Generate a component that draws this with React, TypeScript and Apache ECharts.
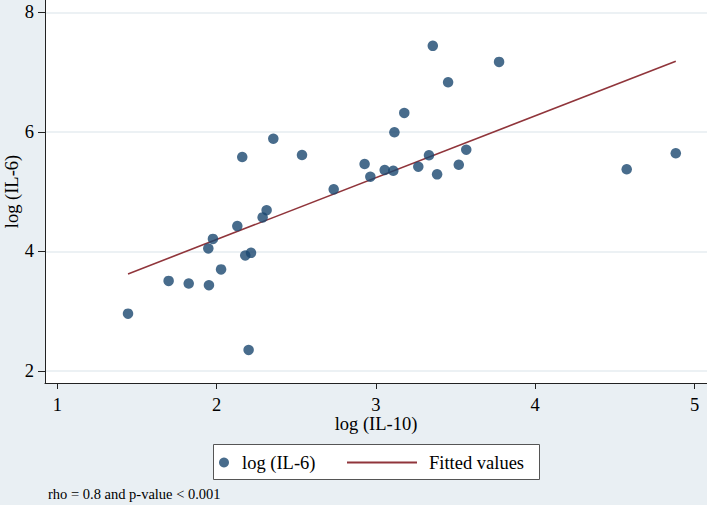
import React, { useEffect, useRef } from "react";
import * as echarts from "echarts";

// log (IL-10) and log (IL-6) pairs
const il10: number[] = [
  1.444, 1.699, 1.825, 1.952, 1.948, 1.977, 2.028, 2.13, 2.18, 2.216, 2.201,
  2.289, 2.314, 2.161, 2.356, 2.536, 2.735, 2.929, 2.965, 3.055, 3.109, 3.116,
  3.178, 3.266, 3.333, 3.384, 3.52, 3.567, 3.453, 3.357, 3.773, 4.574, 4.882,
];
const il6: number[] = [
  2.96, 3.508, 3.464, 3.436, 4.05, 4.21, 3.7, 4.424, 3.933, 3.977, 2.352, 4.57,
  4.69, 5.58, 5.886, 5.613, 5.039, 5.462, 5.25, 5.362, 5.35, 5.993, 6.317,
  5.417, 5.608, 5.29, 5.45, 5.702, 6.83, 7.439, 7.171, 5.374, 5.642,
];

// Fitted regression line endpoints
const fitX: number[] = [1.444, 4.882];
const fitY: number[] = [3.625, 7.18];

const xTicks: number[] = [1, 2, 3, 4, 5];
const yTicks: number[] = [2, 4, 6, 8];

const FONT = "'Liberation Serif', 'Times New Roman', serif";
const NAVY = "#1a476f";
const MAROON = "#90353b";

export default function App() {
  const ref = useRef<HTMLDivElement>(null);

  useEffect(() => {
    document.body.style.margin = "0";
    if (!ref.current) return;
    const chart = echarts.init(ref.current, undefined, { renderer: "svg" });
    const points = il10.map((x, i) => [x, il6[i]]);
    const fit = fitX.map((x, i) => [x, fitY[i]]);

    chart.setOption({
      animation: false,
      backgroundColor: "#e9eff3",
      textStyle: { fontFamily: FONT, color: "#000" },
      title: {
        text: "rho = 0.8 and p-value < 0.001",
        left: 48,
        top: 486,
        padding: 0,
        textStyle: { fontFamily: FONT, fontSize: 14.5, fontWeight: "normal", color: "#000" },
      },
      grid: {
        left: 45,
        right: 0,
        top: 0,
        bottom: 122,
        containLabel: false,
        outerBoundsMode: "none",
        show: true,
        backgroundColor: "#ffffff",
        borderWidth: 0,
      },
      graphic: [
        {
          type: "rect",
          left: 213,
          top: 444,
          shape: { width: 326, height: 35 },
          style: { fill: "#ffffff", stroke: "#555", lineWidth: 1 },
          z: -1,
        },
      ],
      legend: [
        {
          data: ["log (IL-6)"],
          left: 219,
          top: 453,
          padding: 0,
          itemWidth: 10,
          itemHeight: 10,
          icon: "circle",
          textStyle: { fontFamily: FONT, fontSize: 18.5, color: "#000", padding: [0, 0, 0, 8] },
        },
        {
          data: ["Fitted values"],
          left: 347,
          top: 453,
          padding: 0,
          itemWidth: 70,
          itemHeight: 2,
          icon: "rect",
          textStyle: { fontFamily: FONT, fontSize: 18.5, color: "#000", padding: [0, 0, 0, 7] },
        },
      ],
      xAxis: {
        type: "value",
        min: 0.923,
        max: 5.078,
        name: "log (IL-10)",
        nameLocation: "middle",
        nameGap: 31,
        nameMoveOverlap: false,
        nameTextStyle: { fontFamily: FONT, fontSize: 18.5, color: "#000" },
        axisLine: { show: true, onZero: false, lineStyle: { color: "#222", width: 1 } },
        axisTick: { show: true, length: 6, customValues: xTicks, lineStyle: { color: "#222" } },
        axisLabel: {
          customValues: xTicks,
          margin: 12,
          fontFamily: FONT,
          fontSize: 18.5,
          color: "#000",
        },
        splitLine: { show: false },
      },
      yAxis: {
        type: "value",
        min: 1.8,
        max: 8.206,
        name: "log (IL-6)",
        nameLocation: "middle",
        nameGap: 24,
        nameMoveOverlap: false,
        nameRotate: 90,
        nameTextStyle: { fontFamily: FONT, fontSize: 18.5, color: "#000" },
        axisLine: { show: true, onZero: false, lineStyle: { color: "#222", width: 1 } },
        axisTick: { show: true, length: 7, customValues: yTicks, lineStyle: { color: "#222" } },
        axisLabel: {
          customValues: yTicks,
          margin: 11,
          fontFamily: FONT,
          fontSize: 18.5,
          color: "#000",
        },
        splitLine: { show: true, lineStyle: { color: "#e6edf0", width: 1.5 } },
      },
      series: [
        {
          name: "log (IL-6)",
          type: "scatter",
          data: points,
          symbol: "circle",
          symbolSize: 10.5,
          itemStyle: { color: NAVY },
          z: 3,
        },
        {
          name: "Fitted values",
          type: "line",
          data: fit,
          symbol: "none",
          lineStyle: { color: MAROON, width: 1.6 },
          itemStyle: { color: MAROON },
          z: 2,
        },
      ],
    });

    return () => chart.dispose();
  }, []);

  return <div ref={ref} style={{ width: 707, height: 505 }} />;
}
